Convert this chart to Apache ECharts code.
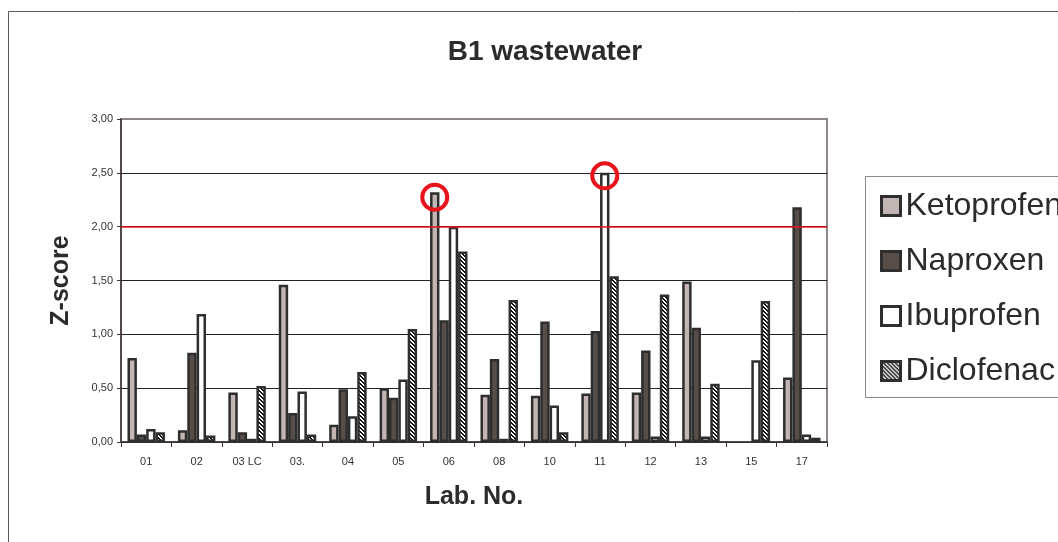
<!DOCTYPE html>
<html>
<head>
<meta charset="utf-8">
<script src="https://cdn.jsdelivr.net/npm/echarts@6/dist/echarts.min.js"></script>
<style>
  html, body { margin: 0; padding: 0; background: #fff; }
  #chart { width: 1058px; height: 542px; }
</style>
</head>
<body>
<div id="chart"></div>
<script>
// Z-scores per laboratory for the B1 wastewater sample
var categories = ['01', '02', '03 LC', '03.', '04', '05', '06', '08', '10', '11', '12', '13', '15', '17'];
var ketoprofen = [0.78, 0.11, 0.46, 1.46, 0.16, 0.50, 2.32, 0.44, 0.43, 0.45, 0.46, 1.49, null, 0.60];
var naproxen   = [0.07, 0.83, 0.09, 0.27, 0.49, 0.41, 1.13, 0.77, 1.12, 1.03, 0.85, 1.06, null, 2.18];
var ibuprofen  = [0.12, 1.19, 0.03, 0.47, 0.24, 0.58, 2.00, 0.03, 0.34, 2.50, 0.05, 0.05, 0.76, 0.07];
var diclofenac = [0.09, 0.06, 0.52, 0.07, 0.65, 1.05, 1.77, 1.32, 0.09, 1.54, 1.37, 0.54, 1.31, 0.04];
var seriesNames = ['Ketoprofen', 'Naproxen', 'Ibuprofen', 'Diclofenac'];
var yTicks = [0, 0.5, 1, 1.5, 2, 2.5, 3];
var limit = 2.0;
// highlighted results: [category, series index]
var flagged = [['06', 0], ['11', 2]];

var FONT = '"Liberation Sans", Arial, sans-serif';
var EDGE = '#2e2e2e';

// crisp diagonal hatch tile ("\" direction) for Diclofenac
function hatchTile() {
  var s = 4;
  var c = document.createElement('canvas');
  c.width = s; c.height = s;
  var g = c.getContext('2d');
  for (var y = 0; y < s; y++) {
    for (var x = 0; x < s; x++) {
      var d = ((x - y) % s + s) % s;
      g.fillStyle = (d < 2) ? '#111' : '#fff';
      g.fillRect(x, y, 1, 1);
    }
  }
  return c;
}

var fills = ['#c1b6b3', '#574e4a', '#ffffff', { image: hatchTile(), repeat: 'repeat' }];
var values = [ketoprofen, naproxen, ibuprofen, diclofenac];

var series = seriesNames.map(function (name, i) {
  var s = {
    name: name,
    type: 'bar',
    data: values[i],
    barWidth: 9.4,
    barGap: '-0.5%',
    itemStyle: { color: fills[i], borderColor: EDGE, borderWidth: 2.5 },
    emphasis: { disabled: true },
    animation: false
  };
  var marks = flagged.filter(function (f) { return f[1] === i; }).map(function (f) {
    var idx = categories.indexOf(f[0]);
    return { coord: [f[0], values[i][idx]], symbolOffset: [0, i === 0 ? 5 : 3] };
  });
  if (marks.length) {
    s.markPoint = {
      symbol: 'circle',
      symbolSize: 25,
      label: { show: false },
      itemStyle: { color: 'rgba(0,0,0,0)', borderColor: '#e8141b', borderWidth: 4 },
      data: marks,
      animation: false
    };
  }
  return s;
});

series[0].markLine = {
  symbol: 'none',
  silent: true,
  label: { show: false },
  lineStyle: { color: '#e8141b', width: 1.5, type: 'solid' },
  data: [{ yAxis: limit }],
  animation: false
};

var chart = echarts.init(document.getElementById('chart'), null, { renderer: 'canvas' });
chart.setOption({
  animation: false,
  backgroundColor: '#fff',
  title: {
    text: 'B1 wastewater',
    left: 540, top: 33, textAlign: 'center',
    textStyle: { fontFamily: FONT, fontSize: 28, fontWeight: 'bold', color: '#2b2b2b' }
  },
  graphic: [
    { type: 'rect', shape: { x: 8.5, y: 11.5, width: 1200, height: 700 },
      style: { fill: 'none', stroke: '#5a5a5a', lineWidth: 1 }, silent: true, z: -10 },
    { type: 'rect', shape: { x: 865.5, y: 176.5, width: 300, height: 221 },
      style: { fill: '#fff', stroke: '#8a8a8a', lineWidth: 1 }, silent: true, z: -5 }
  ],
  legend: {
    orient: 'vertical',
    left: 880, top: 190,
    padding: 0,
    itemWidth: 19, itemHeight: 19,
    itemGap: 23,
    icon: 'rect',
    selectedMode: false,
    itemStyle: { borderColor: EDGE, borderWidth: 3 },
    textStyle: { fontFamily: FONT, fontSize: 32, lineHeight: 32, color: '#2b2b2b' },
    data: seriesNames
  },
  grid: {
    left: 121, right: 231, top: 119, bottom: 100,
    show: true, borderColor: '#8e8683', borderWidth: 2, backgroundColor: 'transparent'
  },
  xAxis: {
    type: 'category',
    data: categories,
    name: 'Lab. No.',
    nameLocation: 'middle',
    nameGap: 43,
    nameTextStyle: { fontFamily: FONT, fontSize: 25, fontWeight: 'bold', color: '#2b2b2b' },
    axisLine: { lineStyle: { color: '#3d3634', width: 1.5 } },
    axisTick: { show: true, length: 5, lineStyle: { color: '#3d3634' } },
    axisLabel: { fontFamily: FONT, fontSize: 11, color: '#333', margin: 14 }
  },
  yAxis: {
    type: 'value',
    min: yTicks[0], max: yTicks[yTicks.length - 1], interval: yTicks[1] - yTicks[0],
    name: 'Z-score',
    nameLocation: 'middle',
    nameGap: 47,
    nameRotate: 90,
    nameTextStyle: { fontFamily: FONT, fontSize: 25, fontWeight: 'bold', color: '#2b2b2b' },
    axisLine: { show: true, lineStyle: { color: '#3d3634', width: 1.5 } },
    axisTick: { show: true, length: 4, lineStyle: { color: '#3d3634' } },
    axisLabel: {
      fontFamily: FONT, fontSize: 11, color: '#333', margin: 8,
      formatter: function (v) { return v.toFixed(2).replace('.', ','); }
    },
    splitLine: {
      show: true,
      lineStyle: { color: ['#222', '#222', '#222', '#222', '#222', '#222', 'rgba(0,0,0,0)'], width: 1 }
    }
  },
  series: series
});
</script>
</body>
</html>
